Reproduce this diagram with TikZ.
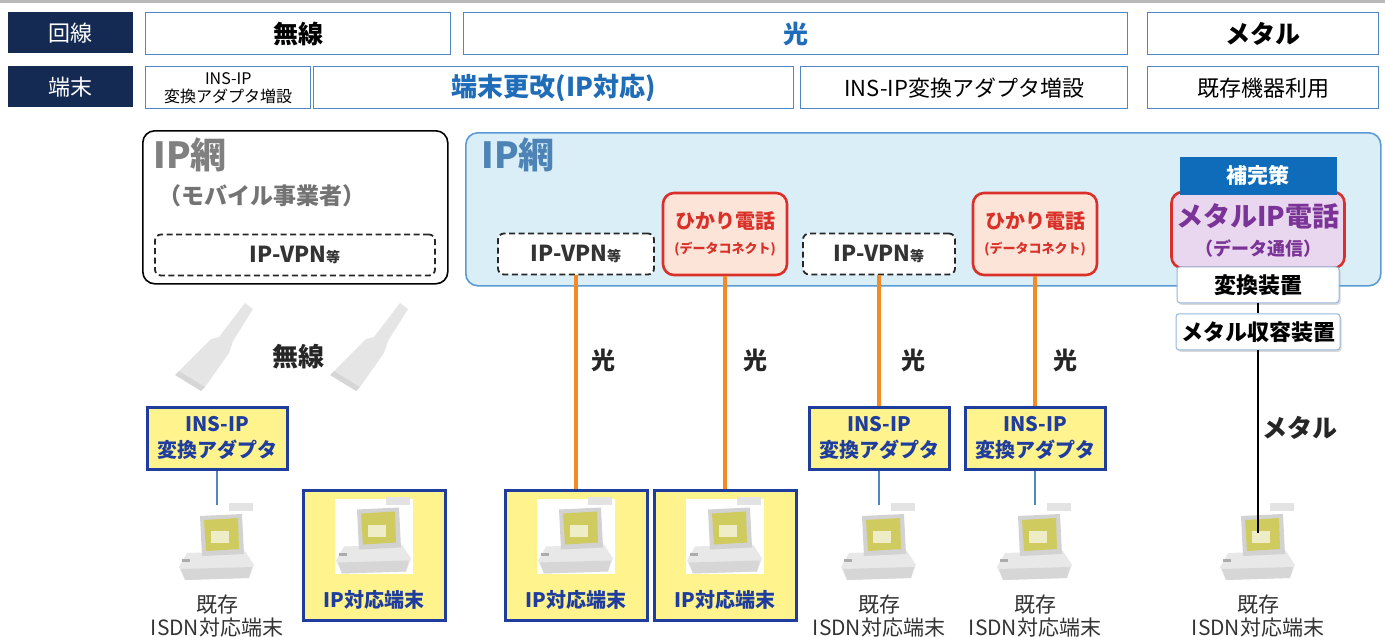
\documentclass[tikz,border=0pt]{standalone}
\usepackage{fontspec}
\setmainfont{Noto Sans CJK JP}
\usetikzlibrary{positioning, shadows}
\definecolor{navy}{HTML}{142A52}
\definecolor{cellblue}{HTML}{4F86C6}
\definecolor{textblue}{HTML}{1F6CB8}
\definecolor{netfill}{HTML}{DAEEF8}
\definecolor{netblue}{HTML}{5B9BD5}
\definecolor{telred}{HTML}{D9302A}
\definecolor{telfill}{HTML}{FCE5D8}
\definecolor{metalfill}{HTML}{E9D6EF}
\definecolor{metalpurple}{HTML}{7A3396}
\definecolor{hokanblue}{HTML}{0E6CBA}
\definecolor{adpfill}{HTML}{FFF38E}
\definecolor{adpnavy}{HTML}{1F3D9E}
\definecolor{fibercol}{HTML}{F28A26}
\definecolor{screen}{HTML}{CFCB5E}
\newcommand\fsz[2]{\fontsize{#1}{#2}\selectfont}
\tikzset{
  terminal/.pic={
    % base unit
    \fill[gray!18] (-38,22) -- (-30,8) -- (28,6) -- (37,20) -- (32,33) -- (-32,35) -- cycle;
    \fill[gray!32] (-36,24) -- (35,22) -- (32,33) -- (-32,35) -- cycle;
    \fill[gray!65] (-35,14) rectangle (-27,17);
    % monitor
    \fill[gray!35] (-17,-29) -- (25,-31) -- (27,9) -- (-15,11) -- cycle;
    \fill[screen] (-13,-25) -- (21,-27) -- (22,4) -- (-11,6) -- cycle;
    \fill[white!65!screen] (-6,-14) rectangle (12,-2);
    \fill[gray!22] (12,-42) rectangle (36,-34);
    \coordinate (-top) at (0,-40);
    \coordinate (-scr) at (0,-12);
  },
  antenna/.pic={
    \fill[gray!20] (-36,26) -- (-4,-6) -- (4,-8) -- (30,-42) -- (38,-36) -- (18,-4) -- (14,8) -- (-10,42) -- cycle;
    \fill[gray!32] (-36,26) -- (-10,42) -- (-14,46) -- (-40,30) -- cycle;
  }
}
\begin{document}
\begin{tikzpicture}[x=1pt, y=-1pt,
  hdr/.style={fill=navy, text=white, minimum height=41pt, minimum width=125pt, inner sep=0pt, font=\fsz{22}{24}},
  cell/.style={draw=cellblue, line width=1.4pt, fill=white, minimum height=42pt, inner sep=0pt, align=center},
  net/.style={rounded corners=12pt, line width=1.6pt, minimum height=153pt},
  vpn/.style={draw=black!85, fill=white, dash pattern=on 6pt off 3.5pt, line width=1.8pt, rounded corners=6pt, minimum height=41pt, font=\bfseries\fsz{22}{24}, text=black!80},
  tel/.style={draw=telred, fill=telfill, line width=2.6pt, rounded corners=11pt, minimum width=124pt, minimum height=82pt, align=center, text=telred, font=\bfseries\fsz{20}{25}},
  dev/.style={draw=cellblue!60, fill=white, line width=1pt, rounded corners=3pt, minimum height=36pt, font=\bfseries\fsz{22}{24}, drop shadow={opacity=0.3, shadow xshift=1.5pt, shadow yshift=-2pt}},
  adp/.style={draw=adpnavy, fill=adpfill, line width=3pt, minimum width=140pt, minimum height=62pt, align=center, text=adpnavy, font=\bfseries\fsz{20}{26}},
  ipterm/.style={draw=adpnavy, fill=adpfill, line width=3pt, minimum width=142pt, text height=107pt, text depth=3pt, inner ysep=10pt, text=adpnavy, font=\bfseries\fsz{20}{22}},
  medium/.style={font=\bfseries\fsz{24}{26}, text=black!85},
  kizon/.style={align=center, font=\fsz{21}{23}, text=black!80},
  fiber/.style={draw=fibercol, line width=4pt},
  copper/.style={draw=black, line width=1.6pt},
  lan/.style={draw=cellblue, line width=1.5pt}]
  \useasboundingbox (0,0) rectangle (1385,637);
  \fill[gray!55] (0,0) rectangle (1385,3);
  % header rows
  \node[hdr, anchor=north west] (kaisen) at (8,12) {回線};
  \node[cell, anchor=north west, minimum width=305pt, font=\bfseries\fsz{25}{27}] (rmusen) at (145,12) {無線};
  \node[cell, anchor=north west, minimum width=664pt, font=\bfseries\fsz{25}{27}, text=textblue] (rhikari) at (463,12) {光};
  \node[cell, anchor=north west, minimum width=231pt, font=\bfseries\fsz{25}{27}] (rmetal) at (1147,12) {メタル};
  \node[hdr, anchor=north west] (tanmatsu) at (8,66) {端末};
  \node[cell, anchor=north west, minimum width=165pt, font=\fsz{16}{18}] (radp) at (145,66) {INS-IP\\変換アダプタ増設};
  \node[cell, anchor=north west, minimum width=480pt, font=\bfseries\fsz{26}{28}, text=textblue] (rkoushin) at (313,66) {端末更改(IP対応)};
  \node[cell, anchor=north west, minimum width=327pt, font=\fsz{22}{24}] (radpb) at (800,66) {INS-IP変換アダプタ増設};
  \node[cell, anchor=north west, minimum width=231pt, font=\fsz{22}{24}] (rkizon) at (1147,66) {既存機器利用};
  % networks
  \node[net, draw=black, fill=white, anchor=north west, minimum width=305pt] (mobnet) at (142,130) {};
  \node[anchor=north west, font=\bfseries\fsz{36}{38}, text=black!50] (mobtitle) at (150,134) {IP網};
  \node[font=\bfseries\fsz{23}{25}, text=black!55] (mobsub) at (262,196) {（モバイル事業者）};
  \node[vpn, minimum width=280pt] (vpn1) at (295,255) {IP-VPN{\fsz{14}{14}等}};
  \node[net, draw=netblue, fill=netfill, anchor=north west, minimum width=915pt] (fixnet) at (465,132) {};
  \node[anchor=north west, font=\bfseries\fsz{36}{38}, text=netblue!85!black] (fixtitle) at (478,134) {IP網};
  \node[vpn, minimum width=156pt] (vpn2) at (576,254) {IP-VPN{\fsz{14}{14}等}};
  \node[tel] (tel1) at (725,234) {ひかり電話\\{\fsz{13}{15}(データコネクト)}};
  \node[vpn, minimum width=152pt] (vpn3) at (879,254) {IP-VPN{\fsz{14}{14}等}};
  \node[tel] (tel2) at (1035,234) {ひかり電話\\{\fsz{13}{15}(データコネクト)}};
  \node[tel, fill=metalfill, minimum width=173pt, minimum height=76pt, text=metalpurple, font=\bfseries\fsz{27}{29}] (mip) at (1258,230) {メタルIP電話\\{\fsz{18}{20}（データ通信）}};
  \node[fill=hokanblue, text=white, font=\bfseries\fsz{21}{23}, minimum width=157pt, minimum height=38pt, above=-4pt of mip] (hokan) {補完策};
  \node[dev, minimum width=162pt, below=-3pt of mip] (conv) {変換装置};
  \node[dev, minimum width=164pt, below=10pt of conv] (accom) {メタル収容装置};
  % wireless
  \pic at (215,345) {antenna};
  \pic at (370,345) {antenna};
  \node[medium, font=\bfseries\fsz{26}{28}] (musen) at (298,357) {無線};
  % adapters and terminals
  \node[adp] (ad1) at (217,438) {INS-IP\\変換アダプタ};
  \node[adp] (ad2) at (879,438) {INS-IP\\変換アダプタ};
  \node[adp] (ad3) at (1035,438) {INS-IP\\変換アダプタ};
  \node[ipterm] (ip1) at (374,555) {IP対応端末};
  \node[ipterm] (ip2) at (576,555) {IP対応端末};
  \node[ipterm] (ip3) at (725,555) {IP対応端末};
  \foreach \n in {ip1,ip2,ip3} {
    \fill[white] (\n.north) ++(-39,10) rectangle ++(78,75);
    \path (\n.north) ++(0,50) pic {terminal};
  }
  \pic (t1) at (217,545) {terminal};
  \pic (t2) at (879,545) {terminal};
  \pic (t3) at (1035,545) {terminal};
  \pic (t4) at (1258,545) {terminal};
  \node[kizon] (k1) at (217,616) {既存\\ISDN対応端末};
  \node[kizon] (k2) at (879,616) {既存\\ISDN対応端末};
  \node[kizon] (k3) at (1035,616) {既存\\ISDN対応端末};
  \node[kizon] (k4) at (1258,616) {既存\\ISDN対応端末};
  % links
  \draw[fiber] (vpn2) -- (ip2);
  \draw[fiber] (tel1) -- (ip3);
  \draw[fiber] (vpn3) -- (ad2);
  \draw[fiber] (tel2) -- (ad3);
  \draw[lan] (ad1) -- (t1-top);
  \draw[lan] (ad2) -- (t2-top);
  \draw[lan] (ad3) -- (t3-top);
  \draw[copper] (conv) -- (accom);
  \draw[copper] (accom) -- (t4-scr);
  \node[medium] (f1) at (603,360) {光};
  \node[medium] (f2) at (755,360) {光};
  \node[medium] (f3) at (913,360) {光};
  \node[medium] (f4) at (1065,360) {光};
  \node[medium, font=\bfseries\fsz{25}{27}] (metallbl) at (1300,428) {メタル};
\end{tikzpicture}
\end{document}
